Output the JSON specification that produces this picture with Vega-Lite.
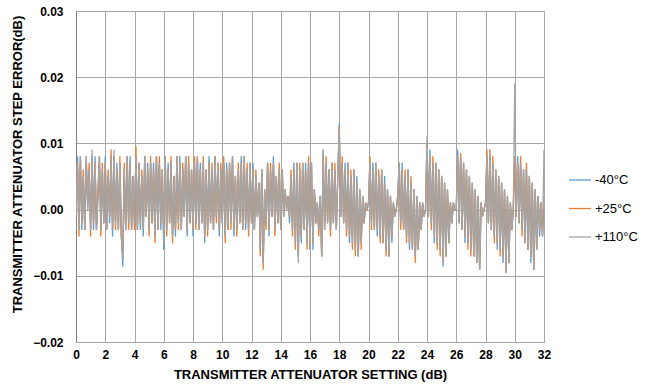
{
"$schema":"https://vega.github.io/schema/vega-lite/v6.json",
"width":468,"height":331,
"autosize":{"type":"none"},
"padding":{"left":76,"top":11,"right":110,"bottom":45},
"background":"white",
"config":{"view":{"stroke":null},"font":"Liberation Sans"},
"data":{"values":[
{"x":0,"b":-0.001,"o":0,"g":-0.001},
{"x":0.1,"b":0.008,"o":0.007,"g":0.007},
{"x":0.2,"b":-0.003,"o":-0.004,"g":-0.003},
{"x":0.3,"b":0.008,"o":0.008,"g":0.008},
{"x":0.4,"b":-0.003,"o":-0.002,"g":-0.002},
{"x":0.5,"b":0.005,"o":0.006,"g":0.005},
{"x":0.6,"b":-0.003,"o":-0.003,"g":-0.003},
{"x":0.7,"b":0.008,"o":0.007,"g":0.008},
{"x":0.8,"b":0,"o":0.001,"g":0},
{"x":0.9,"b":0.006,"o":0.007,"g":0.006},
{"x":1.0,"b":-0.003,"o":-0.004,"g":-0.003},
{"x":1.1,"b":0.008,"o":0.008,"g":0.009},
{"x":1.2,"b":-0.003,"o":-0.002,"g":-0.002},
{"x":1.3,"b":0.008,"o":0.007,"g":0.007},
{"x":1.4,"b":-0.003,"o":-0.003,"g":-0.003},
{"x":1.5,"b":0.002,"o":0.003,"g":0.002},
{"x":1.6,"b":0.008,"o":0.008,"g":0.008},
{"x":1.7,"b":-0.003,"o":-0.004,"g":-0.003},
{"x":1.8,"b":0.006,"o":0.007,"g":0.006},
{"x":1.9,"b":-0.002,"o":-0.002,"g":-0.002},
{"x":2.0,"b":0.008,"o":0.007,"g":0.007},
{"x":2.1,"b":-0.003,"o":-0.003,"g":-0.003},
{"x":2.2,"b":0.005,"o":0.006,"g":0.005},
{"x":2.3,"b":-0.002,"o":-0.001,"g":-0.001},
{"x":2.4,"b":0.008,"o":0.009,"g":0.008},
{"x":2.5,"b":-0.004,"o":-0.003,"g":-0.003},
{"x":2.6,"b":0.008,"o":0.008,"g":0.009},
{"x":2.7,"b":-0.002,"o":-0.003,"g":-0.002},
{"x":2.8,"b":0.007,"o":0.006,"g":0.006},
{"x":2.9,"b":-0.003,"o":-0.003,"g":-0.003},
{"x":3.0,"b":0.007,"o":0.008,"g":0.007},
{"x":3.1,"b":-0.004,"o":-0.004,"g":-0.004},
{"x":3.2,"b":-0.0085,"o":-0.007,"g":-0.0075},
{"x":3.3,"b":0.006,"o":0.007,"g":0.006},
{"x":3.4,"b":-0.003,"o":-0.003,"g":-0.003},
{"x":3.5,"b":0.008,"o":0.008,"g":0.008},
{"x":3.6,"b":-0.002,"o":-0.003,"g":-0.002},
{"x":3.7,"b":0.008,"o":0.007,"g":0.007},
{"x":3.8,"b":-0.003,"o":-0.003,"g":-0.003},
{"x":3.9,"b":0.005,"o":0.005,"g":0.005},
{"x":4.0,"b":-0.002,"o":-0.003,"g":-0.002},
{"x":4.1,"b":0.008,"o":0.0095,"g":0.008},
{"x":4.2,"b":-0.003,"o":-0.003,"g":-0.003},
{"x":4.3,"b":0.007,"o":0.007,"g":0.007},
{"x":4.4,"b":-0.003,"o":-0.002,"g":-0.002},
{"x":4.5,"b":0.005,"o":0.006,"g":0.005},
{"x":4.6,"b":-0.004,"o":-0.003,"g":-0.003},
{"x":4.7,"b":0.008,"o":0.008,"g":0.008},
{"x":4.8,"b":-0.001,"o":-0.001,"g":-0.001},
{"x":4.9,"b":0.007,"o":0.006,"g":0.006},
{"x":5.0,"b":-0.003,"o":-0.004,"g":-0.003},
{"x":5.1,"b":0.007,"o":0.008,"g":0.007},
{"x":5.2,"b":-0.002,"o":-0.002,"g":-0.002},
{"x":5.3,"b":0.007,"o":0.006,"g":0.006},
{"x":5.4,"b":-0.004,"o":-0.005,"g":-0.004},
{"x":5.5,"b":0.008,"o":0.008,"g":0.008},
{"x":5.6,"b":-0.003,"o":-0.003,"g":-0.003},
{"x":5.7,"b":0.007,"o":0.008,"g":0.007},
{"x":5.8,"b":-0.003,"o":-0.002,"g":-0.002},
{"x":5.9,"b":0.006,"o":0.006,"g":0.006},
{"x":6.0,"b":-0.006,"o":-0.004,"g":-0.005},
{"x":6.1,"b":0.008,"o":0.008,"g":0.008},
{"x":6.2,"b":-0.003,"o":-0.004,"g":-0.003},
{"x":6.3,"b":0.007,"o":0.006,"g":0.006},
{"x":6.4,"b":-0.002,"o":-0.002,"g":-0.002},
{"x":6.5,"b":0.007,"o":0.008,"g":0.007},
{"x":6.6,"b":-0.004,"o":-0.005,"g":-0.004},
{"x":6.7,"b":0.005,"o":0.005,"g":0.005},
{"x":6.8,"b":-0.004,"o":-0.003,"g":-0.003},
{"x":6.9,"b":0.008,"o":0.008,"g":0.008},
{"x":7.0,"b":-0.002,"o":-0.003,"g":-0.002},
{"x":7.1,"b":0.008,"o":0.007,"g":0.007},
{"x":7.2,"b":-0.003,"o":-0.003,"g":-0.003},
{"x":7.3,"b":0.006,"o":0.007,"g":0.006},
{"x":7.4,"b":-0.001,"o":-0.001,"g":-0.001},
{"x":7.5,"b":0.008,"o":0.008,"g":0.008},
{"x":7.6,"b":-0.004,"o":-0.003,"g":-0.003},
{"x":7.7,"b":0.007,"o":0.008,"g":0.007},
{"x":7.8,"b":-0.002,"o":-0.002,"g":-0.002},
{"x":7.9,"b":0.006,"o":0.006,"g":0.006},
{"x":8.0,"b":-0.004,"o":-0.003,"g":-0.003},
{"x":8.1,"b":0.007,"o":0.008,"g":0.007},
{"x":8.2,"b":-0.002,"o":-0.003,"g":-0.002},
{"x":8.3,"b":0.008,"o":0.008,"g":0.008},
{"x":8.4,"b":-0.003,"o":-0.003,"g":-0.003},
{"x":8.5,"b":0.007,"o":0.006,"g":0.006},
{"x":8.6,"b":-0.002,"o":-0.002,"g":-0.002},
{"x":8.7,"b":0.007,"o":0.008,"g":0.007},
{"x":8.8,"b":-0.005,"o":-0.004,"g":-0.004},
{"x":8.9,"b":0.006,"o":0.006,"g":0.006},
{"x":9.0,"b":-0.003,"o":-0.004,"g":-0.003},
{"x":9.1,"b":0.008,"o":0.007,"g":0.007},
{"x":9.2,"b":-0.002,"o":-0.002,"g":-0.002},
{"x":9.3,"b":0.006,"o":0.007,"g":0.006},
{"x":9.4,"b":-0.003,"o":-0.003,"g":-0.003},
{"x":9.5,"b":0.008,"o":0.008,"g":0.008},
{"x":9.6,"b":-0.001,"o":-0.002,"g":-0.001},
{"x":9.7,"b":0.007,"o":0.007,"g":0.007},
{"x":9.8,"b":-0.004,"o":-0.003,"g":-0.003},
{"x":9.9,"b":0.006,"o":0.007,"g":0.006},
{"x":10.0,"b":-0.002,"o":-0.002,"g":-0.002},
{"x":10.1,"b":0.007,"o":0.008,"g":0.007},
{"x":10.2,"b":-0.004,"o":-0.005,"g":-0.004},
{"x":10.3,"b":0.007,"o":0.006,"g":0.006},
{"x":10.4,"b":-0.003,"o":-0.003,"g":-0.003},
{"x":10.5,"b":0.007,"o":0.007,"g":0.007},
{"x":10.6,"b":-0.002,"o":-0.003,"g":-0.002},
{"x":10.7,"b":0.008,"o":0.008,"g":0.008},
{"x":10.8,"b":-0.004,"o":-0.003,"g":-0.003},
{"x":10.9,"b":0.005,"o":0.005,"g":0.005},
{"x":11.0,"b":-0.003,"o":-0.004,"g":-0.003},
{"x":11.1,"b":0.006,"o":0.007,"g":0.006},
{"x":11.2,"b":-0.002,"o":-0.002,"g":-0.002},
{"x":11.3,"b":0.008,"o":0.007,"g":0.007},
{"x":11.4,"b":-0.003,"o":-0.003,"g":-0.003},
{"x":11.5,"b":0.008,"o":0.008,"g":0.008},
{"x":11.6,"b":-0.003,"o":-0.002,"g":-0.002},
{"x":11.7,"b":0.006,"o":0.007,"g":0.006},
{"x":11.8,"b":-0.003,"o":-0.004,"g":-0.003},
{"x":11.9,"b":0.007,"o":0.007,"g":0.007},
{"x":12.0,"b":-0.002,"o":-0.002,"g":-0.002},
{"x":12.1,"b":0.007,"o":0.006,"g":0.006},
{"x":12.2,"b":-0.003,"o":-0.003,"g":-0.003},
{"x":12.3,"b":0.005,"o":0.006,"g":0.005},
{"x":12.4,"b":-0.001,"o":-0.001,"g":-0.001},
{"x":12.5,"b":0.004,"o":0.004,"g":0.004},
{"x":12.6,"b":-0.006,"o":-0.007,"g":-0.006},
{"x":12.7,"b":0.006,"o":0.006,"g":0.006},
{"x":12.8,"b":-0.008,"o":-0.009,"g":-0.008},
{"x":12.9,"b":0.003,"o":0.003,"g":0.003},
{"x":13.0,"b":-0.002,"o":-0.003,"g":-0.002},
{"x":13.1,"b":0.007,"o":0.007,"g":0.007},
{"x":13.2,"b":-0.004,"o":-0.003,"g":-0.003},
{"x":13.3,"b":0.006,"o":0.007,"g":0.006},
{"x":13.4,"b":-0.001,"o":-0.001,"g":-0.001},
{"x":13.5,"b":0.008,"o":0.007,"g":0.007},
{"x":13.6,"b":-0.003,"o":-0.004,"g":-0.003},
{"x":13.7,"b":0.005,"o":0.005,"g":0.005},
{"x":13.8,"b":-0.002,"o":-0.002,"g":-0.002},
{"x":13.9,"b":0.006,"o":0.007,"g":0.006},
{"x":14.0,"b":-0.003,"o":-0.003,"g":-0.003},
{"x":14.1,"b":0.006,"o":0.006,"g":0.006},
{"x":14.2,"b":-0.001,"o":-0.001,"g":-0.001},
{"x":14.3,"b":0.003,"o":0.003,"g":0.003},
{"x":14.4,"b":0,"o":0,"g":0},
{"x":14.5,"b":0.002,"o":0.002,"g":0.002},
{"x":14.6,"b":-0.002,"o":-0.001,"g":-0.001},
{"x":14.7,"b":0.005,"o":0.006,"g":0.005},
{"x":14.8,"b":-0.003,"o":-0.004,"g":-0.003},
{"x":14.9,"b":0.007,"o":0.006,"g":0.006},
{"x":15.0,"b":-0.005,"o":-0.006,"g":-0.005},
{"x":15.1,"b":0.007,"o":0.007,"g":0.007},
{"x":15.2,"b":-0.007,"o":-0.007,"g":-0.008},
{"x":15.3,"b":0.006,"o":0.007,"g":0.006},
{"x":15.4,"b":-0.005,"o":-0.004,"g":-0.004},
{"x":15.5,"b":0.007,"o":0.007,"g":0.007},
{"x":15.6,"b":-0.003,"o":-0.003,"g":-0.003},
{"x":15.7,"b":0.007,"o":0.006,"g":0.006},
{"x":15.8,"b":-0.005,"o":-0.006,"g":-0.005},
{"x":15.9,"b":0.007,"o":0.008,"g":0.007},
{"x":16.0,"b":-0.006,"o":-0.006,"g":-0.006},
{"x":16.1,"b":0.007,"o":0.007,"g":0.007},
{"x":16.2,"b":-0.006,"o":-0.005,"g":-0.005},
{"x":16.3,"b":0.003,"o":0.003,"g":0.003},
{"x":16.4,"b":-0.002,"o":-0.002,"g":-0.002},
{"x":16.5,"b":0.001,"o":0.001,"g":0.001},
{"x":16.6,"b":-0.003,"o":-0.004,"g":-0.003},
{"x":16.7,"b":0.002,"o":0.002,"g":0.002},
{"x":16.8,"b":-0.007,"o":-0.007,"g":-0.007},
{"x":16.9,"b":0.009,"o":0.008,"g":0.009},
{"x":17.0,"b":-0.003,"o":-0.003,"g":-0.003},
{"x":17.1,"b":0.007,"o":0.008,"g":0.007},
{"x":17.2,"b":-0.002,"o":-0.002,"g":-0.002},
{"x":17.3,"b":0.006,"o":0.006,"g":0.006},
{"x":17.4,"b":-0.003,"o":-0.004,"g":-0.003},
{"x":17.5,"b":0.007,"o":0.007,"g":0.007},
{"x":17.6,"b":-0.002,"o":-0.002,"g":-0.002},
{"x":17.7,"b":0.006,"o":0.007,"g":0.006},
{"x":17.8,"b":-0.003,"o":-0.003,"g":-0.003},
{"x":17.9,"b":0.005,"o":0.005,"g":0.005},
{"x":18.0,"b":0.013,"o":0.0125,"g":0.012},
{"x":18.1,"b":-0.001,"o":-0.001,"g":-0.001},
{"x":18.2,"b":0.007,"o":0.008,"g":0.007},
{"x":18.3,"b":-0.002,"o":-0.002,"g":-0.002},
{"x":18.4,"b":0.007,"o":0.006,"g":0.006},
{"x":18.5,"b":-0.003,"o":-0.004,"g":-0.003},
{"x":18.6,"b":0.007,"o":0.007,"g":0.007},
{"x":18.7,"b":-0.005,"o":-0.004,"g":-0.004},
{"x":18.8,"b":0.005,"o":0.006,"g":0.005},
{"x":18.9,"b":-0.005,"o":-0.006,"g":-0.005},
{"x":19.0,"b":0.006,"o":0.006,"g":0.006},
{"x":19.1,"b":-0.006,"o":-0.007,"g":-0.006},
{"x":19.2,"b":0.005,"o":0.004,"g":0.004},
{"x":19.3,"b":-0.007,"o":-0.007,"g":-0.007},
{"x":19.4,"b":0.003,"o":0.003,"g":0.003},
{"x":19.5,"b":-0.005,"o":-0.006,"g":-0.005},
{"x":19.6,"b":0.002,"o":0.002,"g":0.002},
{"x":19.7,"b":-0.002,"o":-0.002,"g":-0.002},
{"x":19.8,"b":0.001,"o":0.001,"g":0.001},
{"x":19.9,"b":0,"o":0,"g":0},
{"x":20.0,"b":0.001,"o":0.001,"g":0.001},
{"x":20.1,"b":0.007,"o":0.008,"g":0.007},
{"x":20.2,"b":-0.002,"o":-0.003,"g":-0.002},
{"x":20.3,"b":0.007,"o":0.006,"g":0.006},
{"x":20.4,"b":-0.003,"o":-0.003,"g":-0.003},
{"x":20.5,"b":0.007,"o":0.007,"g":0.007},
{"x":20.6,"b":-0.004,"o":-0.003,"g":-0.003},
{"x":20.7,"b":0.005,"o":0.006,"g":0.005},
{"x":20.8,"b":-0.004,"o":-0.005,"g":-0.004},
{"x":20.9,"b":0.006,"o":0.006,"g":0.006},
{"x":21.0,"b":-0.005,"o":-0.005,"g":-0.005},
{"x":21.1,"b":0.005,"o":0.004,"g":0.004},
{"x":21.2,"b":-0.006,"o":-0.007,"g":-0.006},
{"x":21.3,"b":0.003,"o":0.003,"g":0.003},
{"x":21.4,"b":-0.007,"o":-0.007,"g":-0.007},
{"x":21.5,"b":0.002,"o":0.002,"g":0.002},
{"x":21.6,"b":-0.005,"o":-0.004,"g":-0.004},
{"x":21.7,"b":0.001,"o":0.001,"g":0.001},
{"x":21.8,"b":-0.001,"o":-0.001,"g":-0.001},
{"x":21.9,"b":0,"o":0,"g":0},
{"x":22.0,"b":0.002,"o":0.002,"g":0.002},
{"x":22.1,"b":0.007,"o":0.007,"g":0.007},
{"x":22.2,"b":-0.002,"o":-0.003,"g":-0.002},
{"x":22.3,"b":0.007,"o":0.006,"g":0.006},
{"x":22.4,"b":-0.003,"o":-0.003,"g":-0.003},
{"x":22.5,"b":0.005,"o":0.006,"g":0.005},
{"x":22.6,"b":-0.004,"o":-0.005,"g":-0.004},
{"x":22.7,"b":0.006,"o":0.006,"g":0.006},
{"x":22.8,"b":-0.006,"o":-0.005,"g":-0.005},
{"x":22.9,"b":0.004,"o":0.005,"g":0.004},
{"x":23.0,"b":-0.006,"o":-0.006,"g":-0.006},
{"x":23.1,"b":0.003,"o":0.003,"g":0.003},
{"x":23.2,"b":-0.007,"o":-0.008,"g":-0.007},
{"x":23.3,"b":0.002,"o":0.002,"g":0.002},
{"x":23.4,"b":-0.006,"o":-0.006,"g":-0.006},
{"x":23.5,"b":0.001,"o":0.001,"g":0.001},
{"x":23.6,"b":-0.003,"o":-0.003,"g":-0.003},
{"x":23.7,"b":0.001,"o":0.001,"g":0.001},
{"x":23.8,"b":-0.001,"o":-0.001,"g":-0.001},
{"x":23.9,"b":0,"o":0,"g":0},
{"x":24.0,"b":0.01,"o":0.01,"g":0.011},
{"x":24.1,"b":-0.001,"o":-0.001,"g":-0.001},
{"x":24.2,"b":0.009,"o":0.008,"g":0.008},
{"x":24.3,"b":-0.002,"o":-0.003,"g":-0.002},
{"x":24.4,"b":0.007,"o":0.008,"g":0.007},
{"x":24.5,"b":-0.005,"o":-0.004,"g":-0.004},
{"x":24.6,"b":0.007,"o":0.007,"g":0.007},
{"x":24.7,"b":-0.005,"o":-0.006,"g":-0.005},
{"x":24.8,"b":0.006,"o":0.006,"g":0.006},
{"x":24.9,"b":-0.006,"o":-0.007,"g":-0.006},
{"x":25.0,"b":0.005,"o":0.005,"g":0.005},
{"x":25.1,"b":-0.0085,"o":-0.008,"g":-0.008},
{"x":25.2,"b":0.004,"o":0.004,"g":0.004},
{"x":25.3,"b":-0.007,"o":-0.007,"g":-0.007},
{"x":25.4,"b":0.003,"o":0.003,"g":0.003},
{"x":25.5,"b":-0.005,"o":-0.005,"g":-0.005},
{"x":25.6,"b":0.001,"o":0.001,"g":0.001},
{"x":25.7,"b":-0.002,"o":-0.002,"g":-0.002},
{"x":25.8,"b":0.001,"o":0.001,"g":0.001},
{"x":25.9,"b":0,"o":0,"g":0},
{"x":26.0,"b":0,"o":0,"g":0},
{"x":26.1,"b":0.009,"o":0.008,"g":0.008},
{"x":26.2,"b":-0.002,"o":-0.002,"g":-0.002},
{"x":26.3,"b":0.008,"o":0.0085,"g":0.008},
{"x":26.4,"b":-0.003,"o":-0.003,"g":-0.003},
{"x":26.5,"b":0.007,"o":0.007,"g":0.007},
{"x":26.6,"b":-0.005,"o":-0.004,"g":-0.004},
{"x":26.7,"b":0.006,"o":0.006,"g":0.006},
{"x":26.8,"b":-0.005,"o":-0.006,"g":-0.005},
{"x":26.9,"b":0.005,"o":0.005,"g":0.005},
{"x":27.0,"b":-0.006,"o":-0.007,"g":-0.006},
{"x":27.1,"b":0.004,"o":0.004,"g":0.004},
{"x":27.2,"b":-0.007,"o":-0.007,"g":-0.007},
{"x":27.3,"b":0.003,"o":0.003,"g":0.003},
{"x":27.4,"b":-0.008,"o":-0.008,"g":-0.008},
{"x":27.5,"b":0.002,"o":0.002,"g":0.002},
{"x":27.6,"b":-0.009,"o":-0.009,"g":-0.009},
{"x":27.7,"b":0.001,"o":0.001,"g":0.001},
{"x":27.8,"b":-0.001,"o":-0.001,"g":-0.001},
{"x":27.9,"b":0,"o":0,"g":0},
{"x":28.0,"b":0.001,"o":0.001,"g":0.001},
{"x":28.1,"b":0.008,"o":0.009,"g":0.008},
{"x":28.2,"b":-0.002,"o":-0.002,"g":-0.002},
{"x":28.3,"b":0.008,"o":0.009,"g":0.009},
{"x":28.4,"b":-0.003,"o":-0.003,"g":-0.003},
{"x":28.5,"b":0.007,"o":0.008,"g":0.007},
{"x":28.6,"b":-0.004,"o":-0.005,"g":-0.004},
{"x":28.7,"b":0.006,"o":0.006,"g":0.006},
{"x":28.8,"b":-0.006,"o":-0.005,"g":-0.005},
{"x":28.9,"b":0.005,"o":0.005,"g":0.005},
{"x":29.0,"b":-0.006,"o":-0.007,"g":-0.006},
{"x":29.1,"b":0.004,"o":0.004,"g":0.004},
{"x":29.2,"b":-0.008,"o":-0.007,"g":-0.007},
{"x":29.3,"b":0.003,"o":0.003,"g":0.003},
{"x":29.4,"b":-0.009,"o":-0.0095,"g":-0.0095},
{"x":29.5,"b":0.002,"o":0.002,"g":0.002},
{"x":29.6,"b":-0.008,"o":-0.008,"g":-0.008},
{"x":29.7,"b":0.001,"o":0.001,"g":0.001},
{"x":29.8,"b":-0.003,"o":-0.003,"g":-0.003},
{"x":29.9,"b":0,"o":0,"g":0},
{"x":30.0,"b":0.008,"o":0.008,"g":0.019},
{"x":30.1,"b":-0.001,"o":-0.001,"g":-0.001},
{"x":30.2,"b":0.008,"o":0.007,"g":0.007},
{"x":30.3,"b":-0.002,"o":-0.002,"g":-0.002},
{"x":30.4,"b":0.007,"o":0.008,"g":0.007},
{"x":30.5,"b":-0.003,"o":-0.004,"g":-0.003},
{"x":30.6,"b":0.006,"o":0.006,"g":0.006},
{"x":30.7,"b":-0.005,"o":-0.005,"g":-0.005},
{"x":30.8,"b":0.006,"o":0.007,"g":0.006},
{"x":30.9,"b":-0.006,"o":-0.006,"g":-0.006},
{"x":31.0,"b":0.005,"o":0.005,"g":0.005},
{"x":31.1,"b":-0.008,"o":-0.007,"g":-0.007},
{"x":31.2,"b":0.004,"o":0.004,"g":0.004},
{"x":31.3,"b":-0.009,"o":-0.009,"g":-0.009},
{"x":31.4,"b":0.003,"o":0.003,"g":0.003},
{"x":31.5,"b":-0.006,"o":-0.006,"g":-0.006},
{"x":31.6,"b":0.002,"o":0.002,"g":0.002},
{"x":31.7,"b":-0.004,"o":-0.003,"g":-0.003},
{"x":31.8,"b":0.001,"o":0.001,"g":0.001},
{"x":31.9,"b":-0.004,"o":-0.004,"g":-0.004},
{"x":32.0,"b":0.001,"o":0.002,"g":0.009}
]},
"transform":[{"fold":["b","o","g"],"as":["s","y"]}],
"mark":{"type":"line","strokeJoin":"round","clip":true},
"encoding":{
"x":{"field":"x","type":"quantitative","scale":{"domain":[0,32],"nice":false,"zero":false},
"axis":{"values":[0,2,4,6,8,10,12,14,16,18,20,22,24,26,28,30,32],"title":"TRANSMITTER ATTENUATOR SETTING (dB)","labelFont":"Liberation Sans","labelFontWeight":"bold","labelFontSize":12,"labelColor":"#000000","titleFont":"Liberation Sans","titleFontSize":13,"titleFontWeight":"bold","titleColor":"#000000","grid":true,"gridColor":"#a6a6a6","gridWidth":1,"ticks":false,"domainColor":"#a6a6a6","labelPadding":7,"titlePadding":8,"labelFlush":false}},
"y":{"field":"y","type":"quantitative","scale":{"domain":[-0.02,0.03],"nice":false,"zero":false},
"axis":{"values":[-0.02,-0.01,0,0.01,0.02,0.03],"format":".2f","title":"TRANSMITTER ATTENUATOR STEP ERROR(dB)","labelFont":"Liberation Sans","labelFontWeight":"bold","labelFontSize":12,"labelColor":"#000000","titleFont":"Liberation Sans","titleFontSize":13,"titleFontWeight":"bold","titleColor":"#000000","grid":true,"gridColor":"#a6a6a6","gridWidth":1,"ticks":false,"domainColor":"#808080","labelPadding":13,"titlePadding":8,"titleY":153}},
"strokeWidth":{"field":"s","type":"nominal","scale":{"domain":["b","o","g"],"range":[1.3,1.3,2]},"legend":null},
"color":{"field":"s","type":"nominal","scale":{"domain":["b","o","g"],"range":["#5b9bd5","#ed7d31","#a5a5a5"]},
"legend":{"orient":"none","legendX":492,"legendY":157,"title":null,"padding":0,"labelExpr":"datum.label == 'b' ? '-40°C' : datum.label == 'o' ? '+25°C' : '+110°C'","labelFont":"Liberation Sans","labelFontSize":13,"labelColor":"#000000","symbolType":"stroke","symbolSize":484,"symbolStrokeWidth":2,"rowPadding":9.5,"labelOffset":3}}
}
}
